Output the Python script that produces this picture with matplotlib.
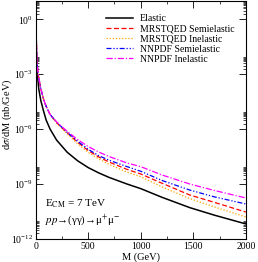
import numpy as np
import matplotlib
matplotlib.use('Agg')
import matplotlib.pyplot as plt
from matplotlib.ticker import FixedLocator, MultipleLocator, NullFormatter

plt.rcParams['font.family'] = ['Liberation Serif', 'DejaVu Serif']
plt.rcParams['mathtext.fontset'] = 'stix'

# invariant mass (GeV) and log10 of dsigma/dM (nb/GeV)
mass = [2, 4, 7, 10, 15, 20, 30, 50, 75, 100, 138, 200, 300, 400, 500,
        600, 700, 870, 1000, 1200, 1467, 1700, 2000]
elastic = [1.5, 0.0, -1.5, -2.3, -2.85, -3.2, -3.8, -4.45, -5.0, -5.5, -6.0, -6.6,
           -7.26, -7.73, -8.1, -8.39, -8.64, -9.0, -9.25, -9.72, -10.29, -10.7, -11.18]
mrst_semi = [1.6, 0.4, -1.0, -1.9, -2.45, -2.75, -3.2, -3.8, -4.35, -4.75, -5.2, -5.65,
             -6.2, -6.72, -7.17, -7.52, -7.8, -8.2, -8.45, -8.95, -9.6, -10.0, -10.53]
mrst_inel = [1.6, 0.4, -1.0, -1.9, -2.45, -2.75, -3.2, -3.8, -4.35, -4.75, -5.2, -5.68,
             -6.25, -6.8, -7.27, -7.62, -7.93, -8.35, -8.6, -9.15, -9.8, -10.25, -10.8]
nnpdf_semi = [1.6, 0.4, -1.0, -1.9, -2.45, -2.75, -3.2, -3.8, -4.35, -4.75, -5.2, -5.62,
              -6.17, -6.66, -7.1, -7.45, -7.7, -8.05, -8.3, -8.8, -9.33, -9.7, -10.09]
nnpdf_inel = [1.6, 0.4, -1.0, -1.9, -2.45, -2.75, -3.2, -3.8, -4.35, -4.75, -5.2, -5.6,
              -6.12, -6.57, -6.95, -7.25, -7.5, -7.85, -8.05, -8.5, -9.0, -9.35, -9.76]

fig = plt.figure(figsize=(2.58, 2.62), dpi=100)
ax = fig.add_axes([0.138, 0.088, 0.815, 0.908])

ax.plot(mass, 10.0**np.array(elastic), color='black', lw=1.1, label='Elastic')
ax.plot(mass, 10.0**np.array(mrst_semi), color='red', lw=0.9, dashes=(4, 2), label='MRSTQED Semielastic')
ax.plot(mass, 10.0**np.array(mrst_inel), color='#ffa500', lw=0.9, dashes=(1, 1.5), label='MRSTQED Inelastic')
ax.plot(mass, 10.0**np.array(nnpdf_semi), color='blue', lw=0.9, dashes=(4, 1.5, 1, 1.5, 1, 1.5), label='NNPDF Semielastic')
ax.plot(mass, 10.0**np.array(nnpdf_inel), color='magenta', lw=0.9, dashes=(5, 1.5, 1, 1.5), label='NNPDF Inelastic')

ax.set_yscale('log')
ax.set_xlim(0, 2000)
ax.set_ylim(1e-12, 1e1)

majors = [1e-12, 1e-9, 1e-6, 1e-3, 1e0]
minors = [m * k for m in majors for k in range(2, 10)]
ax.yaxis.set_major_locator(FixedLocator(majors))
ax.yaxis.set_minor_locator(FixedLocator(minors))
ax.yaxis.set_minor_formatter(NullFormatter())
ax.xaxis.set_major_locator(MultipleLocator(500))
ax.xaxis.set_minor_locator(MultipleLocator(250))

ax.tick_params(which='both', direction='in', top=True, right=True, labelsize=7, pad=2)
ax.tick_params(which='major', length=5, width=0.6)
ax.tick_params(which='minor', length=2.5, width=0.5)
for s in ax.spines.values():
    s.set_linewidth(0.8)

ax.set_xlabel('M (GeV)', fontsize=7.5, labelpad=1)
ax.set_ylabel(r'd$\sigma$/dM (nb/GeV)', fontsize=7.5)
ax.yaxis.set_label_coords(-0.105, 0.525)

ax.text(0.045, 0.15, r'E$_{\mathrm{CM}}$ = 7 TeV', transform=ax.transAxes, fontsize=8, va='center')
ax.text(0.045, 0.08, r'$pp$→(γγ)→μ$^{+}$μ$^{-}$', transform=ax.transAxes, fontsize=7.8, va='center')

ax.legend(loc='upper left', bbox_to_anchor=(0.335, 0.945), frameon=False, fontsize=7,
          handlelength=2.8, labelspacing=0.12, handletextpad=0.7, borderpad=0, borderaxespad=0)

fig.savefig('out.png', dpi=100)
